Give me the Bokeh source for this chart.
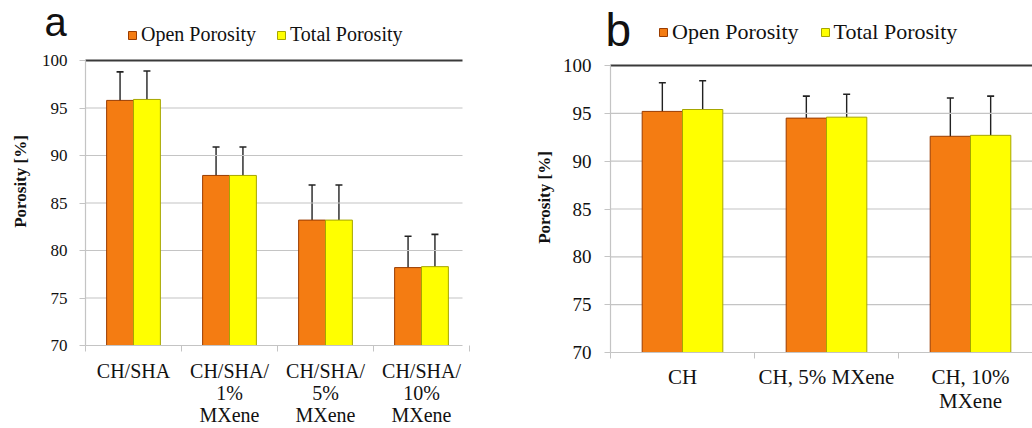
import math
from bokeh.plotting import figure
from bokeh.models import (ColumnDataSource, Range1d, FixedTicker, Whisker, TeeHead,
                          Legend, LegendItem, Label)
from bokeh.layouts import row
from bokeh.embed import file_html
from bokeh.resources import INLINE

# ---------------- data ----------------
a_cats = ["CH/SHA", "CH/SHA/\n1%\nMXene", "CH/SHA/\n5%\nMXene", "CH/SHA/\n10%\nMXene"]
a_open = [95.8, 87.9, 83.2, 78.2]
a_total = [95.9, 87.9, 83.2, 78.3]
a_open_err = [3.0, 3.0, 3.7, 3.3]
a_total_err = [3.0, 3.0, 3.7, 3.4]

b_cats = ["CH", "CH, 5% MXene", "CH, 10%\nMXene"]
b_open = [95.2, 94.5, 92.6]
b_total = [95.4, 94.6, 92.7]
b_open_err = [3.0, 2.3, 4.0]
b_total_err = [3.0, 2.4, 4.1]

y_ticks = [70, 75, 80, 85, 90, 95, 100]
series_names = ["Open Porosity", "Total Porosity"]
y_label = "Porosity [%]"

ORANGE = "#F47C12"
ORANGE_LINE = "#9A3C00"
YELLOW = "#FFFF00"
YELLOW_LINE = "#A6A600"
GRID = "#C4C4C4"
SERIF = "Liberation Serif"
H = 428


def make(letter, cats, open_v, total_v, open_e, total_e, *, width, fl, cat_px, plot_right,
         y100, y70, tick_size, xlab_size, xlab_lh, xlab_standoff, ylab_size, ylab_xy,
         letter_size, letter_xy, leg_size, leg_xy, leg_spacing, ytick_standoff):
    n = len(cats)
    centers = [i + 0.5 for i in range(n)]
    ppu = (y70 - y100) / 30.0
    x_start = -fl / cat_px
    x_stop = (width - fl) / cat_px
    x_plot_end = (plot_right - fl) / cat_px
    y_start = 70 - (H - y70) / ppu
    y_stop = 100 + y100 / ppu

    p = figure(width=width, height=H, output_backend="svg", toolbar_location=None,
               title=None, x_range=Range1d(x_start, x_stop), y_range=Range1d(y_start, y_stop),
               min_border=0)
    p.outline_line_color = None
    p.background_fill_color = "white"
    p.border_fill_color = "white"
    p.grid.visible = False

    # horizontal grid lines over the plot area only
    grid_y = [t for t in y_ticks if 70 < t < 100]
    p.segment(x0=0, x1=x_plot_end, y0=grid_y, y1=grid_y, line_color=GRID, line_width=1.2)
    p.segment(x0=[0], x1=[x_plot_end], y0=[100], y1=[100], line_color="#3A3A3A", line_width=1.8)

    bw = 0.28
    src_o = ColumnDataSource(dict(x=[c - bw / 2 for c in centers], top=open_v,
                                  lo=[v - e for v, e in zip(open_v, open_e)],
                                  hi=[v + e for v, e in zip(open_v, open_e)]))
    src_t = ColumnDataSource(dict(x=[c + bw / 2 for c in centers], top=total_v,
                                  lo=[v - e for v, e in zip(total_v, total_e)],
                                  hi=[v + e for v, e in zip(total_v, total_e)]))
    r_o = p.vbar(x="x", top="top", bottom=70, width=bw, source=src_o,
                 fill_color=ORANGE, line_color=ORANGE_LINE, line_width=1)
    r_t = p.vbar(x="x", top="top", bottom=70, width=bw, source=src_t,
                 fill_color=YELLOW, line_color=YELLOW_LINE, line_width=1)

    for src in (src_o, src_t):
        p.add_layout(Whisker(base="x", lower="lo", upper="hi", source=src, dimension="height",
                             line_color="#222222", line_width=1.4,
                             upper_head=TeeHead(size=7, line_color="#222222", line_width=1.6),
                             lower_head=TeeHead(size=7, line_color="#222222", line_width=1.6)))

    ya = p.yaxis[0]
    ya.fixed_location = 0
    ya.bounds = (70, 100)
    ya.ticker = FixedTicker(ticks=y_ticks)
    ya.axis_line_color = GRID
    ya.axis_line_width = 1.2
    ya.major_tick_line_color = GRID
    ya.major_tick_in = 0
    ya.major_tick_out = 6
    ya.minor_tick_line_color = None
    ya.major_label_text_font = SERIF
    ya.major_label_text_font_size = f"{tick_size}px"
    ya.major_label_text_color = "#111111"
    ya.major_label_standoff = ytick_standoff

    xa = p.xaxis[0]
    xa.fixed_location = 70
    xa.bounds = (0, x_plot_end)
    xa.ticker = FixedTicker(ticks=centers, minor_ticks=list(range(n + 1)))
    xa.major_label_overrides = {c: lab for c, lab in zip(centers, cats)}
    xa.major_tick_line_color = None
    xa.minor_tick_line_color = GRID
    xa.minor_tick_in = 0
    xa.minor_tick_out = 6
    xa.axis_line_color = GRID
    xa.axis_line_width = 1.2
    xa.major_label_text_font = SERIF
    xa.major_label_text_font_size = f"{xlab_size}px"
    xa.major_label_text_color = "#111111"
    xa.major_label_text_line_height = xlab_lh
    xa.major_label_standoff = xlab_standoff

    legend = Legend(items=[LegendItem(label=series_names[0], renderers=[r_o]),
                           LegendItem(label=series_names[1], renderers=[r_t])],
                    orientation="horizontal", location=(leg_xy[0], H - leg_xy[1]),
                    border_line_color=None, background_fill_alpha=0,
                    padding=0, margin=0, spacing=leg_spacing,
                    glyph_width=10, glyph_height=10, label_standoff=4,
                    label_text_font=SERIF, label_text_font_size=f"{leg_size}px",
                    label_text_color="#111111", label_height=22)
    p.add_layout(legend)

    p.add_layout(Label(x=letter_xy[0], y=H - letter_xy[1], x_units="screen", y_units="screen",
                       text=letter, text_font="Liberation Sans",
                       text_font_size=f"{letter_size}px", text_color="#111111",
                       text_baseline="alphabetic", text_align="left"))
    p.add_layout(Label(x=ylab_xy[0], y=H - ylab_xy[1], x_units="screen", y_units="screen",
                       text=y_label, angle=math.pi / 2, text_font=SERIF,
                       text_font_style="bold", text_font_size=f"{ylab_size}px",
                       text_color="#111111", text_align="center", text_baseline="middle"))
    return p


# panel a (page x 0..530): plot area x 85..462, 100 at y=60, 70 at y=345
pa = make("a", a_cats, a_open, a_total, a_open_err, a_total_err,
          width=530, fl=85, cat_px=96, plot_right=462, y100=60, y70=345,
          tick_size=17, xlab_size=20, xlab_lh=1.0, xlab_standoff=8,
          ylab_size=17, ylab_xy=(20, 181), letter_size=40, letter_xy=(44, 21),
          leg_size=20, leg_xy=(127, 46), leg_spacing=20, ytick_standoff=12)

# panel b (page x 530..1032): plot area x 610..1032, 100 at y=65, 70 at y=352
pb = make("b", b_cats, b_open, b_total, b_open_err, b_total_err,
          width=502, fl=80, cat_px=144, plot_right=502, y100=65, y70=352,
          tick_size=19, xlab_size=21, xlab_lh=1.0, xlab_standoff=6,
          ylab_size=17, ylab_xy=(14, 197), letter_size=46, letter_xy=(75, 29),
          leg_size=22, leg_xy=(128, 45), leg_spacing=21, ytick_standoff=13)

layout = row(pa, pb)
open("out.html", "w").write(file_html(layout, INLINE))
